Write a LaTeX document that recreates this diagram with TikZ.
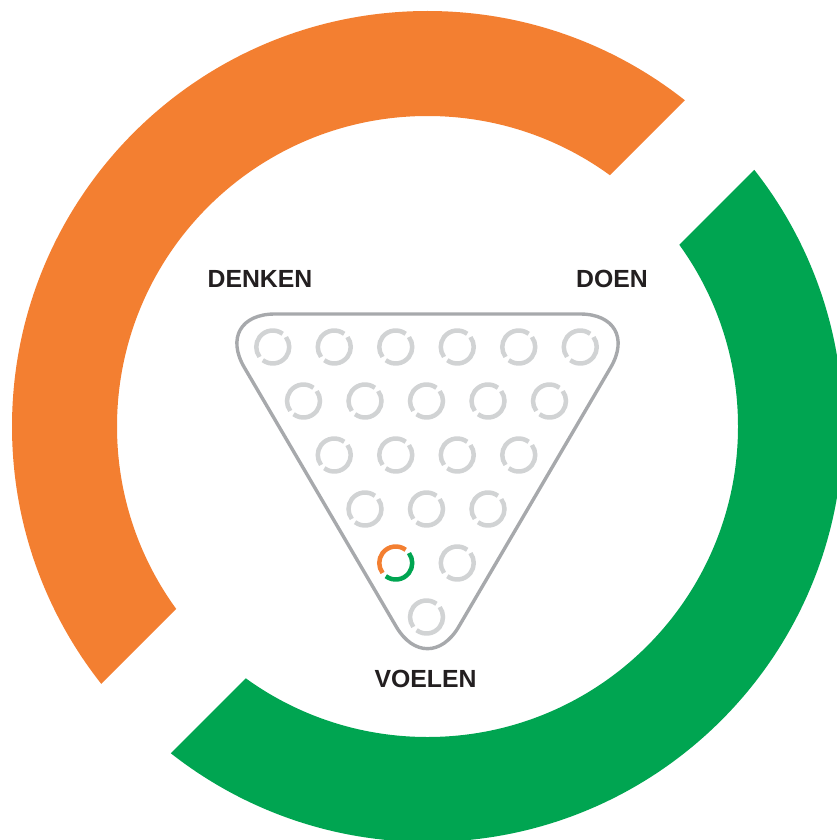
\documentclass[tikz,border=0pt]{standalone}
\usepackage{fontspec}
\setmainfont{Liberation Sans}
\begin{document}
\begin{tikzpicture}[x=1pt,y=1pt]
\definecolor{ringorange}{HTML}{F37F31}
\definecolor{ringgreen}{HTML}{00A551}
\definecolor{triline}{HTML}{A7A9AC}
\definecolor{ballgray}{HTML}{D1D3D4}
\definecolor{labeltext}{HTML}{231F20}
\tikzset{
  labeltxt/.style={font=\fontsize{24.8}{28}\selectfont\bfseries, text=labeltext, inner sep=0pt, anchor=base},
  trianglestroke/.style={draw=triline, line width=3.4pt, rounded corners=62pt},
  ballarc/.style={line width=4.5pt, draw=ballgray},
}
\useasboundingbox (0,0) rectangle (837,-840);
\coordinate (C) at (427.5,-426.5);
% orange part of ring
\begin{scope}
  \clip (-400,-1185) -- (1300,515) -- (-400,515) -- cycle;
  \fill[ringorange, even odd rule] (C) circle[radius=415.5] (C) circle[radius=310.5];
\end{scope}
% green part of ring
\begin{scope}
  \clip (-400,-1324) -- (1400,476) -- (1400,-1324) -- cycle;
  \fill[ringgreen, even odd rule] (C) circle[radius=415.5] (C) circle[radius=310.5];
\end{scope}
% triangle
\coordinate (TL) at (213,-314);
\coordinate (TR) at (642,-314);
\coordinate (TB) at (427.5,-680);
\draw[trianglestroke] (TL) -- (TR) -- (TB) -- cycle;
% balls
\foreach \r in {0,...,5}{
  \pgfmathtruncatemacro{\n}{5-\r}
  \foreach \i in {0,...,\n}{
    \pgfmathsetmacro{\xx}{426.5 + (\i - \n/2)*61.5}
    \pgfmathsetmacro{\yy}{-347 - \r*54}
    \ifnum\r=4 \ifnum\i=0 \else
      \draw[ballarc] (\xx,\yy) ++(53:16.5) arc[start angle=53, end angle=217, radius=16.5];
      \draw[ballarc] (\xx,\yy) ++(233:16.5) arc[start angle=233, end angle=397, radius=16.5];
    \fi\else
      \draw[ballarc] (\xx,\yy) ++(53:16.5) arc[start angle=53, end angle=217, radius=16.5];
      \draw[ballarc] (\xx,\yy) ++(233:16.5) arc[start angle=233, end angle=397, radius=16.5];
    \fi
  }
}
% coloured ball
\coordinate (B) at (395.75,-563);
\draw[ballarc, draw=ringorange] (B) ++(53:16.5) arc[start angle=53, end angle=217, radius=16.5];
\draw[ballarc, draw=ringgreen] (B) ++(233:16.5) arc[start angle=233, end angle=397, radius=16.5];
% labels
\node[labeltxt] (denken) at (260,-287) {DENKEN};
\node[labeltxt] (doen) at (612,-287.5) {DOEN};
\node[labeltxt] (voelen) at (425.5,-687) {VOELEN};
\end{tikzpicture}
\end{document}
